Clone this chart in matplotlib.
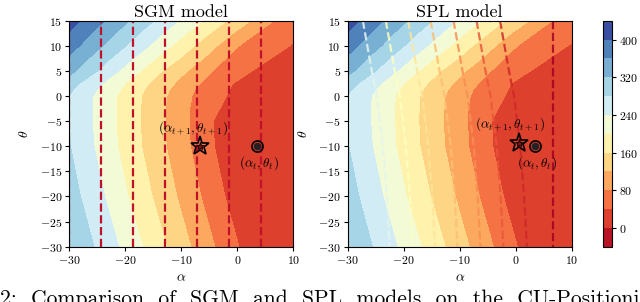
import numpy as np
import matplotlib.pyplot as plt
import matplotlib.tri as mtri
from matplotlib.colors import Normalize

plt.rcParams['font.family'] = 'serif'
plt.rcParams['font.serif'] = ['cmr10']
plt.rcParams['mathtext.fontset'] = 'cm'
plt.rcParams['axes.formatter.use_mathtext'] = True

# filled contour levels (colour bands of 40)
levels = np.arange(-40, 441, 40)
edge_levels = [40, 80, 120, 160, 200, 240, 280, 320, 360, 400, 440]

# theta rows where the band edges were read, and for each row the alpha
# position of the edges 40, 80, 120, ... (going left)
theta_rows = [-30, -20, -10, -5, -2.5, 0, 1.25, 2.5, 3.75, 5, 10, 15]
edges_m30 = [0.3, -4.0, -8.3, -12.6, -16.9, -21.2, -25.6, -30.2]
edges_m20 = [-2.2, -6.5, -10.8, -15.2, -19.5, -23.7, -28.0, -32.3]
edges_m10 = [-4.1, -8.4, -12.7, -17.1, -21.4, -25.6, -29.8, -34.0]
edges_m5 = [-4.3, -8.6, -12.9, -17.3, -21.6, -25.9, -30.1, -34.3]
edges_m2 = [-4.15, -8.5, -12.8, -17.25, -21.6, -25.9, -30.1, -34.3]
edges_0 = [-3.7, -8.1, -12.6, -17.1, -21.5, -25.8, -30.1, -34.4]
edges_1 = [-2.3, -7.6, -12.1, -16.6, -20.9, -25.1, -29.3, -33.5]
edges_2 = [-0.8, -6.7, -11.2, -15.8, -20.0, -24.1, -28.2, -32.3]
edges_3 = [0.9, -5.6, -10.1, -14.6, -18.7, -22.7, -26.6, -30.6]
edges_5 = [2.6, -4.4, -8.9, -13.4, -17.3, -21.2, -25.0, -28.8, -32.6]
edges_10 = [9.3, 0.3, -3.6, -7.7, -11.7, -15.8, -19.9, -24.0, -28.2, -32.4]
edges_15 = [15.7, 6.5, 2.4, -1.9, -6.2, -10.5, -14.9, -19.3, -23.7, -28.1, -32.5]
# bottom of the valley, right of the frame
valley_alpha = 13
valley_value = 20

# SGM model: vertical dashed lines
sgm_lines = [-30, -24.29, -18.57, -12.86, -7.14, -1.43, 4.29]

# SPL model: dashed contour lines, alpha read at these theta
spl_theta = [15, 5, 0, -10, -20, -30]
spl_lines = [[-27.3, -25.7, -24.8, -23.7, -23.0, -22.5],
             [-23.2, -21.6, -20.7, -19.6, -18.9, -18.4],
             [-19.2, -17.6, -16.7, -15.6, -14.9, -14.4],
             [-15.2, -13.6, -12.7, -11.6, -10.9, -10.4],
             [-11.1, -9.5, -8.6, -7.5, -6.8, -6.3],
             [-7.0, -5.4, -4.5, -3.4, -2.7, -2.2],
             [-2.8, -1.2, -0.3, 0.8, 1.5, 2.0],
             [6.7, 6.7, 6.7, 6.7, 6.7, 6.7]]
spl_levels = [240, 200, 160, 120, 80, 40, 0, -40]

# current and next estimate
cur_point = (3.5, -10)
sgm_next = (-6.7, -10)
spl_next = (0.5, -9.3)

# caption under the figure (cut by the image border)
caption = '2:  Comparison  of  SGM  and  SPL  models  on  the  CU-Positioning'

# points for the triangulated surface
pa, pt, pv = [], [], []
all_rows = [edges_m30, edges_m20, edges_m10, edges_m5, edges_m2, edges_0,
            edges_1, edges_2, edges_3, edges_5, edges_10, edges_15]
for th, row in zip(theta_rows, all_rows):
    for a, lv in zip(row, edge_levels):
        pa.append(a)
        pt.append(th)
        pv.append(lv)
    if row[0] < valley_alpha:
        pa.append(valley_alpha)
        pt.append(th)
        pv.append(valley_value)
tri = mtri.Triangulation(pa, pt)

cmap = plt.get_cmap('RdYlBu')
norm = Normalize(-40, 440)

fig = plt.figure(figsize=(6.4, 3.02), dpi=100)
ax1 = fig.add_axes([0.1083, 0.1831, 0.35, 0.7483])
ax2 = fig.add_axes([0.5433, 0.1831, 0.35, 0.7483])
cax = fig.add_axes([0.9417, 0.1831, 0.0141, 0.7483])

for ax in (ax1, ax2):
    cs = ax.tricontourf(tri, pv, levels=levels, cmap=cmap, norm=norm)
    ax.set_xlim(-30, 10)
    ax.set_ylim(-30, 15)
    ax.set_xticks([-30, -20, -10, 0, 10])
    ax.set_yticks(np.arange(-30, 16, 5))
    ax.tick_params(labelsize=8.5, length=3, pad=2)
    ax.set_xlabel(r'$\alpha$', fontsize=10, labelpad=5)
    ax.set_ylabel(r'$\theta$', fontsize=10, labelpad=6)

ax1.vlines(sgm_lines, -30, 15, colors='#c0102a', linestyles='--', lw=1.6)
for line, lv in zip(spl_lines, spl_levels):
    ax2.plot(line, spl_theta, '--', color=cmap(norm(lv)), lw=1.6, alpha=0.85)

for ax, nxt in ((ax1, sgm_next), (ax2, spl_next)):
    ax.plot(*nxt, marker='*', ms=14, mfc='none', mec='k', mew=1.2)
    ax.plot(*nxt, marker='*', ms=6, mfc='#7a1010', mec='k', mew=0.6)
    ax.plot(*cur_point, marker='o', ms=8, mfc='none', mec='k', mew=1.2)
    ax.plot(*cur_point, marker='o', ms=4.5, color='#222222')
    ax.text(cur_point[0] + 0.3, cur_point[1] - 3.4, r'$(\alpha_t,\theta_t)$',
            fontsize=9.5, ha='center', va='center')

ax1.text(-8.0, -6.3, r'$(\alpha_{t+1},\theta_{t+1})$', fontsize=9.5,
         ha='center', va='center')
ax2.text(-1.0, -5.6, r'$(\alpha_{t+1},\theta_{t+1})$', fontsize=9.5,
         ha='center', va='center')

ax1.set_title('SGM model', fontsize=13, pad=3)
ax2.set_title('SPL model', fontsize=13, pad=3)

cb = fig.colorbar(cs, cax=cax)
cb.set_ticks([0, 80, 160, 240, 320, 400])
cb.ax.tick_params(labelsize=8.5, length=3, pad=2)

fig.text(0.0, -0.011, caption, fontsize=15.5, ha='left', va='baseline')

fig.savefig('out.png', dpi=100)
